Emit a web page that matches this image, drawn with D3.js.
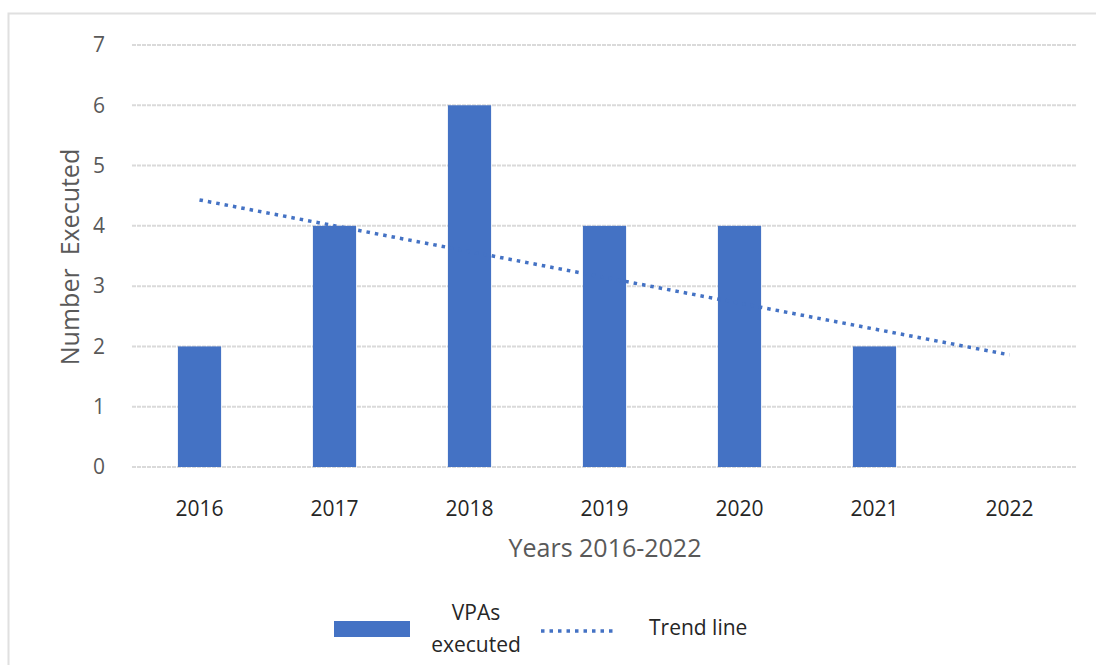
<!DOCTYPE html>
<html>
<head>
<meta charset="utf-8">
<script src="https://cdn.jsdelivr.net/npm/d3@7"></script>
<style>
body { margin: 0; background: #fff; }
svg { display: block; font-family: "Open Sans", sans-serif; }
</style>
</head>
<body>
<svg id="chart" width="1096" height="665"></svg>
<script>
// data
var years = ['2016', '2017', '2018', '2019', '2020', '2021', '2022'];
var executed = [2, 4, 6, 4, 4, 2, 0];
var yTicks = [0, 1, 2, 3, 4, 5, 6, 7];
var trendYears = ['2016', '2022'];
var trendValues = [4.43, 1.86];

var blue = '#4472C4';
var svg = d3.select('#chart');

// outer frame
svg.append('rect')
    .attr('x', 8.5).attr('y', 13.5)
    .attr('width', 1100).attr('height', 700)
    .attr('fill', 'none')
    .attr('stroke', '#e0e0e0')
    .attr('stroke-width', 2);

var plotLeft = 132, plotRight = 1077, plotTop = 45, plotBottom = 467;

var x = d3.scaleBand()
    .domain(years)
    .range([plotLeft, plotRight])
    .paddingInner(0.68)
    .paddingOuter(0.34);

var y = d3.scaleLinear()
    .domain([0, 7])
    .range([plotBottom, plotTop]);

// gridlines
svg.append('g')
    .selectAll('line')
    .data(yTicks)
    .enter().append('line')
    .attr('x1', plotLeft).attr('x2', plotRight)
    .attr('y1', function(d) { return y(d); })
    .attr('y2', function(d) { return y(d); })
    .attr('stroke', '#dadada')
    .attr('stroke-width', 2)
    .attr('stroke-dasharray', '4,1');

// y axis labels
var yAxis = d3.axisLeft(y)
    .tickValues(yTicks)
    .tickFormat(d3.format('d'))
    .tickSize(0)
    .tickPadding(0);
var yg = svg.append('g')
    .attr('transform', 'translate(105,0)')
    .call(yAxis);
yg.select('.domain').remove();
yg.selectAll('text')
    .attr('fill', '#595959')
    .attr('font-size', 21)
    .attr('font-family', '"Open Sans", sans-serif');

// bars
svg.append('g')
    .selectAll('rect')
    .data(years)
    .enter().append('rect')
    .attr('x', function(d) { return x(d); })
    .attr('width', x.bandwidth())
    .attr('y', function(d, i) { return y(executed[i]); })
    .attr('height', function(d, i) { return y(0) - y(executed[i]); })
    .attr('fill', blue);

// x axis labels
var xAxis = d3.axisBottom(x).tickSize(0).tickPadding(0);
var xg = svg.append('g')
    .attr('transform', 'translate(0,501)')
    .call(xAxis);
xg.select('.domain').remove();
xg.selectAll('text')
    .attr('fill', '#262626')
    .attr('font-size', 21)
    .attr('font-family', '"Open Sans", sans-serif');

// trend line
var trend = d3.line()
    .x(function(d, i) { return x(trendYears[i]) + x.bandwidth() / 2; })
    .y(function(d) { return y(d); });
svg.append('path')
    .datum(trendValues)
    .attr('d', trend)
    .attr('fill', 'none')
    .attr('stroke', blue)
    .attr('stroke-width', 3.5)
    .attr('stroke-dasharray', '3.5,5');

// axis titles
svg.append('text')
    .attr('transform', 'translate(79,257) rotate(-90)')
    .attr('text-anchor', 'middle')
    .attr('fill', '#595959')
    .attr('font-size', 25)
    .style('white-space', 'pre')
    .text('Number  Executed');

svg.append('text')
    .attr('x', 605).attr('y', 557)
    .attr('text-anchor', 'middle')
    .attr('fill', '#595959')
    .attr('font-size', 25)
    .text('Years 2016-2022');

// legend
svg.append('rect')
    .attr('x', 334).attr('y', 621)
    .attr('width', 76).attr('height', 16)
    .attr('fill', blue);

svg.append('text')
    .attr('x', 476).attr('y', 620)
    .attr('text-anchor', 'middle')
    .attr('fill', '#262626')
    .attr('font-size', 21)
    .text('VPAs');
svg.append('text')
    .attr('x', 476).attr('y', 652)
    .attr('text-anchor', 'middle')
    .attr('fill', '#262626')
    .attr('font-size', 21)
    .text('executed');

svg.append('line')
    .attr('x1', 541).attr('x2', 617)
    .attr('y1', 631).attr('y2', 631)
    .attr('stroke', blue)
    .attr('stroke-width', 3.5)
    .attr('stroke-dasharray', '3.5,5');

svg.append('text')
    .attr('x', 649).attr('y', 635)
    .attr('fill', '#262626')
    .attr('font-size', 21)
    .text('Trend line');
</script>
</body>
</html>
